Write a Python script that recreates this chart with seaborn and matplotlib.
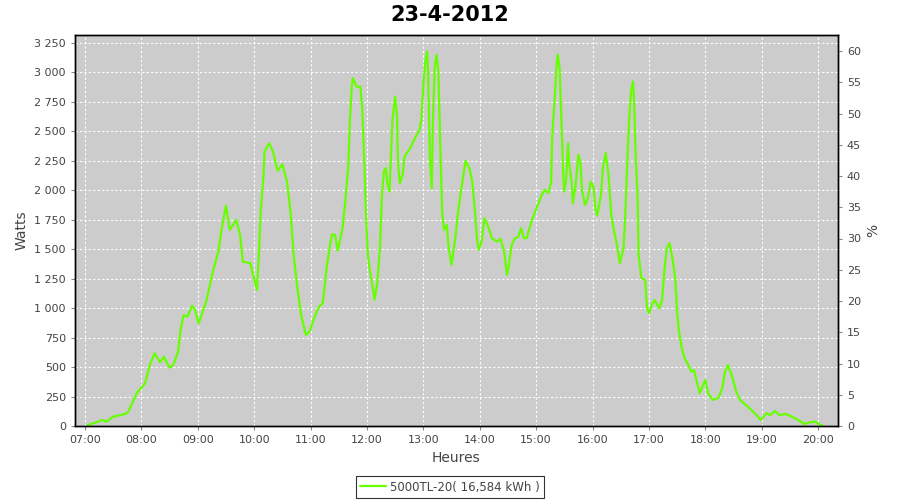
import matplotlib
matplotlib.use("Agg")
import matplotlib.pyplot as plt
import seaborn as sns
import pandas as pd
from matplotlib.ticker import FuncFormatter, MultipleLocator

# Production du 23-4-2012 (lecture du graphique)
heures = ["07:03", "07:14", "07:18", "07:23", "07:30", "07:43", "07:46", "07:51", "07:55", "08:04",
          "08:09", "08:14", "08:20", "08:24", "08:30", "08:34", "08:39", "08:42", "08:45", "08:49",
          "08:54", "08:57", "09:01", "09:09", "09:16", "09:22", "09:25", "09:30", "09:34", "09:41",
          "09:45", "09:48", "09:56", "09:59", "10:03", "10:05", "10:07", "10:10", "10:11", "10:16",
          "10:20", "10:25", "10:30", "10:35", "10:39", "10:42", "10:46", "10:50", "10:55", "10:59",
          "11:05", "11:09", "11:13", "11:17", "11:21", "11:23", "11:26", "11:29", "11:34", "11:37",
          "11:40", "11:42", "11:44", "11:45", "11:49", "11:53", "11:55", "11:57", "11:59", "12:01",
          "12:03", "12:07", "12:08", "12:11", "12:14", "12:16", "12:18", "12:20", "12:22", "12:24",
          "12:25", "12:27", "12:30", "12:32", "12:33", "12:35", "12:38", "12:40", "12:46", "12:51",
          "12:56", "12:58", "13:00", "13:02", "13:04", "13:05", "13:07", "13:09", "13:10", "13:12",
          "13:14", "13:16", "13:18", "13:20", "13:22", "13:25", "13:27", "13:30", "13:34", "13:37",
          "13:41", "13:45", "13:49", "13:52", "13:55", "13:57", "13:59", "14:02", "14:05", "14:09",
          "14:13", "14:18", "14:22", "14:26", "14:29", "14:31", "14:34", "14:37", "14:41", "14:44",
          "14:47", "14:50", "14:55", "15:01", "15:06", "15:09", "15:13", "15:16", "15:17", "15:20",
          "15:22", "15:23", "15:25", "15:27", "15:29", "15:30", "15:32", "15:34", "15:35", "15:38",
          "15:39", "15:42", "15:45", "15:47", "15:49", "15:52", "15:55", "15:58", "16:01", "16:03",
          "16:05", "16:09", "16:11", "16:14", "16:17", "16:20", "16:23", "16:26", "16:29", "16:33",
          "16:35", "16:37", "16:39", "16:41", "16:43", "16:44", "16:46", "16:48", "16:49", "16:52",
          "16:56", "16:58", "17:00", "17:03", "17:06", "17:11", "17:14", "17:16", "17:19", "17:22",
          "17:25", "17:28", "17:30", "17:32", "17:35", "17:38", "17:42", "17:45", "17:48", "17:51",
          "17:54", "18:00", "18:03", "18:08", "18:14", "18:18", "18:21", "18:24", "18:28", "18:33",
          "18:37", "18:44", "18:51", "18:56", "18:59", "19:02", "19:05", "19:09", "19:14", "19:19",
          "19:26", "19:32", "19:39", "19:45", "19:51", "19:57", "20:02", "20:05"]
watts = [8, 37, 51, 37, 79, 102, 121, 206, 278, 362,
         518, 617, 541, 588, 495, 518, 631, 829, 942, 928,
         1021, 985, 872, 1055, 1310, 1480, 1650, 1870, 1664, 1749,
         1622, 1395, 1381, 1282, 1155, 1452, 1819, 2131, 2329, 2400,
         2329, 2165, 2222, 2074, 1791, 1452, 1169, 942, 773, 801,
         942, 1013, 1042, 1339, 1551, 1627, 1622, 1486, 1678, 1904,
         2188, 2612, 2895, 2952, 2880, 2880, 2697, 2273, 1791, 1452,
         1324, 1140, 1070, 1211, 1537, 1961, 2159, 2188, 2046, 1989,
         2188, 2583, 2796, 2640, 2244, 2060, 2131, 2286, 2357, 2442,
         2513, 2612, 2895, 3093, 3178, 3008, 2273, 2018, 2527, 3037,
         3150, 3008, 2386, 1819, 1664, 1706, 1509, 1367, 1594, 1819,
         2046, 2250, 2188, 2074, 1819, 1594, 1494, 1565, 1763, 1692,
         1594, 1565, 1588, 1480, 1282, 1367, 1537, 1588, 1607, 1678,
         1594, 1594, 1735, 1862, 1961, 2004, 1976, 2074, 2442, 2810,
         3079, 3150, 3037, 2583, 2103, 1989, 2103, 2400, 2244, 2046,
         1890, 2046, 2301, 2244, 1989, 1876, 1933, 2074, 2032, 1848,
         1785, 1961, 2188, 2315, 2131, 1791, 1650, 1537, 1381, 1509,
         1819, 2244, 2612, 2838, 2923, 2810, 2273, 1933, 1452, 1254,
         1240, 999, 957, 1027, 1070, 999, 1070, 1282, 1509, 1551,
         1424, 1254, 970, 801, 660, 575, 518, 461, 475, 376,
         278, 390, 278, 221, 240, 320, 461, 518, 433, 291,
         221, 172, 121, 79, 51, 79, 108, 93, 127, 93,
         102, 79, 51, 17, 31, 37, 11, 0]

serie = "5000TL-20( 16,584 kWh )"
titre = "23-4-2012"

df = pd.DataFrame({"heure": heures, "watts": watts})
hm = df["heure"].str.split(":", expand=True).astype(int)
df["h"] = hm[0] + hm[1] / 60.0

sns.set_style("white")
plt.rcParams["font.family"] = ["DejaVu Sans"]

fig = plt.figure(figsize=(9, 5), dpi=100)
ax = fig.add_axes([0.0833, 0.148, 0.931 - 0.0833, 0.93 - 0.148])
ax.set_facecolor("#cccccc")

sns.lineplot(data=df, x="h", y="watts", ax=ax, color="#66ff00", linewidth=1.6, label=serie)

ax.set_xlim(6.8227, 20.351)
ax.set_ylim(0, 3318)
ax.xaxis.set_major_locator(MultipleLocator(1))
ax.xaxis.set_major_formatter(FuncFormatter(lambda v, p: f"{int(round(v)):02d}:00"))
ax.yaxis.set_major_locator(MultipleLocator(250))
ax.yaxis.set_major_formatter(FuncFormatter(lambda v, p: f"{v:,.0f}".replace(",", " ")))
ax.grid(True, color="white", linestyle=(0, (2, 2)), linewidth=0.8)

gris = "#444444"
ax.tick_params(axis="both", direction="out", length=3, width=0.8, color="#888888",
               labelsize=8, labelcolor=gris, left=True, bottom=True)
ax.set_xlabel("Heures", fontsize=10, color=gris)
ax.set_ylabel("Watts", fontsize=10, color=gris)
for s in ax.spines.values():
    s.set_color("black")
    s.set_linewidth(1)

ax2 = ax.twinx()
ax2.set_ylim(0, 62.56)
ax2.yaxis.set_major_locator(MultipleLocator(5))
ax2.tick_params(axis="y", direction="out", length=3, width=0.8, color="#888888",
                labelsize=8, labelcolor=gris, right=True)
ax2.set_ylabel("%", fontsize=10, color=gris)
ax2.grid(False)
for s in ax2.spines.values():
    s.set_color("black")
    s.set_linewidth(1)

fig.suptitle(titre, fontsize=15, fontweight="bold", color="black", y=0.97, va="center")

ax.get_legend().remove()
h, l = ax.get_legend_handles_labels()
leg = fig.legend(h, l, loc="lower center", bbox_to_anchor=(0.5, 0.0), ncol=1,
                 frameon=True, fancybox=False, fontsize=8.5, handlelength=2.2,
                 borderpad=0.35, handletextpad=0.3, borderaxespad=0.2)
leg.get_frame().set_edgecolor("black")
leg.get_frame().set_linewidth(0.8)
for t in leg.get_texts():
    t.set_color(gris)

fig.savefig("out.png", dpi=100)
